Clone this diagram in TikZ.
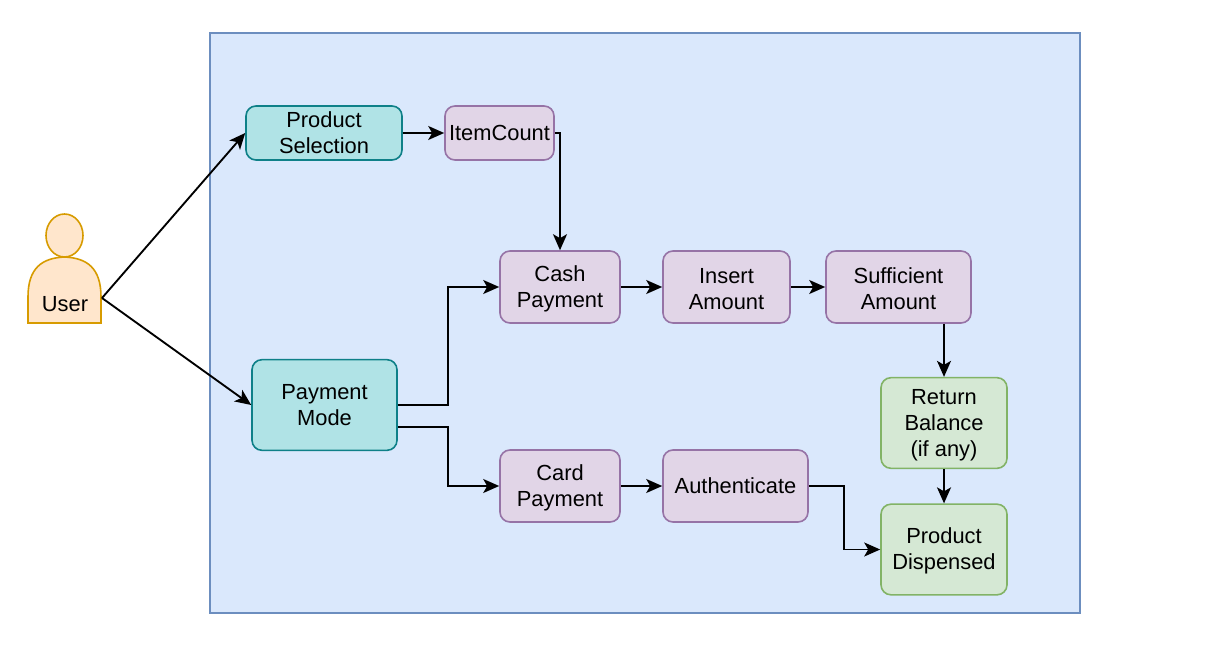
\documentclass[tikz,border=0pt]{standalone}
\usepackage{fontspec}
\setmainfont{Liberation Sans}
\usetikzlibrary{arrows.meta}
\definecolor{panelfill}{HTML}{DAE8FC}
\definecolor{panelline}{HTML}{6C8EBF}
\definecolor{ctrlfill}{HTML}{B0E3E6}
\definecolor{ctrlline}{HTML}{0E8088}
\definecolor{procfill}{HTML}{E1D5E7}
\definecolor{procline}{HTML}{9673A6}
\definecolor{resfill}{HTML}{D5E8D4}
\definecolor{resline}{HTML}{82B366}
\definecolor{userfill}{HTML}{FFE6CC}
\definecolor{userline}{HTML}{D79B00}
\newcommand{\lowstrut}{\rule{0pt}{14.6pt}}
\begin{document}
\begin{tikzpicture}[
	x=0.75pt, y=-0.75pt,
	block/.style={
		rectangle, rounded corners=7.5pt,
		line width=1.2pt,
		align=center, inner sep=0pt,
		font=\fontsize{16.4}{19.5}\selectfont
	},
	process/.style={block, draw=procline, fill=procfill, minimum width=#1*0.75pt, minimum height=54pt},
	control/.style={block, draw=ctrlline, fill=ctrlfill, minimum width=#1*0.75pt},
	result/.style={block, draw=resline, fill=resfill, minimum width=94.5pt, minimum height=68pt},
	line/.style={draw, line width=1.4pt, -{Stealth[length=12pt, width=10.5pt, inset=3pt]}},
	actor/.style={draw=userline, fill=userfill, line width=1.2pt},
	]
	\useasboundingbox (0,0) rectangle (1212,666);
	\draw [fill=panelfill, draw=panelline, line width=1.2pt] (210,33) rectangle (1080,613);

	\draw [actor] (28,323) -- (28,297) .. controls (28,268) and (42,258) .. (64.5,257)
		.. controls (87,258) and (101,268) .. (101,297) -- (101,323) -- cycle;
	\draw [actor] (64.5,235.5) ellipse [x radius=18.5, y radius=21.5];
	\node [font=\fontsize{16.4}{19.5}\selectfont, inner sep=0pt, minimum width=54.75pt] (user) at (65,304) {User};
	\coordinate (userport) at (102,298);

	\node [control=156, minimum height=40.5pt] (sel) at (324,133) {Product\\Selection};
	\node [process=109, minimum height=40.5pt] (count) at (499.5,133) {ItemCount};
	\node [process=120] (cash) at (560,287) {\lowstrut Cash\\Payment};
	\node [process=127] (insert) at (726.5,287) {\lowstrut Insert\\Amount};
	\node [process=145] (suff) at (898.5,287) {\lowstrut Sufficient\\Amount};
	\node [control=145, minimum height=68pt] (mode) at (324.5,405) {Payment\\Mode};
	\node [process=120] (card) at (560,486) {\lowstrut Card\\Payment};
	\node [process=145] (auth) at (735.5,486) {Authenticate};
	\node [result] (bal) at (944,423) {\lowstrut Return\\Balance\\(if any)};
	\node [result] (disp) at (944,549.5) {\lowstrut Product\\Dispensed};

	\path [line] (userport) -- (sel.west);
	\path [line] (userport) -- (mode.west);
	\path [line] (sel) -- (count);
	\path [line] (count.east) -| (cash.north);
	\path [line] (cash) -- (insert);
	\path [line] (insert) -- (suff);
	\path [line] (bal |- suff.south) -- (bal.north);
	\path [line] (bal) -- (disp);
	\path [line] (mode.east) -- ++(50.5,0) |- (cash.west);
	\path [line] ([yshift=-16.5pt]mode.east) -- ++(50.5,0) |- (card.west);
	\path [line] (card) -- (auth);
	\path [line] (auth.east) -- ++(35.5,0) |- (disp.west);
\end{tikzpicture}
\end{document}
